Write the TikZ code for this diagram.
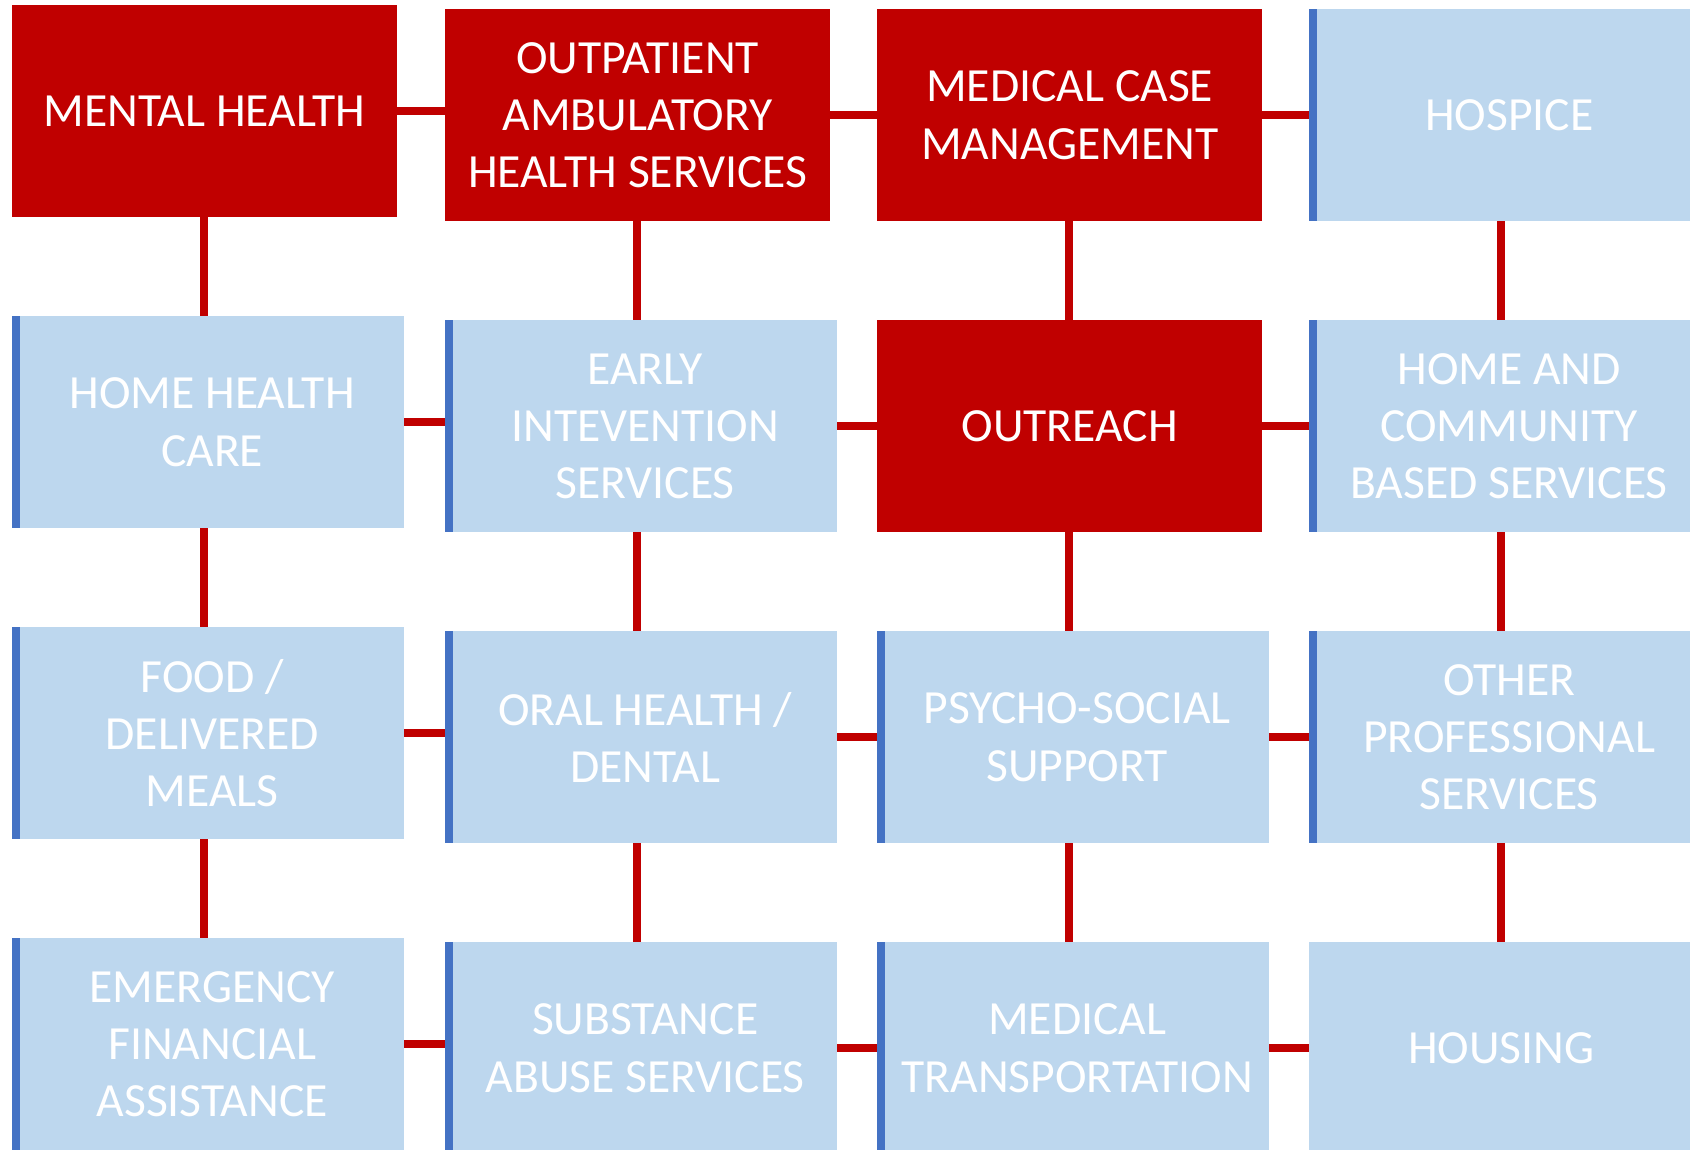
\documentclass[tikz,border=0pt]{standalone}
\usepackage{fontspec}
\setmainfont{Carlito}
\usetikzlibrary{backgrounds}
\definecolor{rd}{HTML}{C00000}
\definecolor{lb}{HTML}{BDD7EE}
\definecolor{st}{HTML}{4472C4}
\tikzset{
  box/.style={rectangle, inner sep=0pt, anchor=north west, text=white, align=center,
    font=\fontsize{47.6}{57.2}\selectfont, minimum height=212pt},
  redbox/.style={box, fill=rd, minimum width=385pt},
  plainbox/.style={box, fill=lb, minimum width=384pt},
  bluebox/.style={plainbox, xshift=8pt,
    append after command={\pgfextra{\fill[st] ([xshift=-8pt]\tikzlastnode.north west) rectangle (\tikzlastnode.south west);}}},
  conn/.style={draw=rd, line width=8pt},
}
\begin{document}
\begin{tikzpicture}[x=1pt,y=-1pt]
\useasboundingbox (0,0) rectangle (1690,1149);
\clip (0,0) rectangle (1690,1149);
% row 1
\node[redbox] (mh) at (12,5) {MENTAL HEALTH};
\node[redbox] (oa) at (445,9) {OUTPATIENT\\AMBULATORY\\HEALTH SERVICES};
\node[redbox] (mcm) at (877,9) {MEDICAL CASE\\MANAGEMENT};
\node[bluebox] (hos) at (1309,9) {HOSPICE};
% row 2
\node[bluebox] (hhc) at (12,316) {HOME HEALTH\\CARE};
\node[bluebox] (eis) at (445,320) {EARLY\\INTEVENTION\\SERVICES};
\node[redbox] (out) at (877,320) {OUTREACH};
\node[bluebox] (hcbs) at (1309,320) {HOME AND\\COMMUNITY\\BASED SERVICES};
% row 3
\node[bluebox] (food) at (12,627) {FOOD /\\DELIVERED\\MEALS};
\node[bluebox] (oral) at (445,631) {ORAL HEALTH /\\DENTAL};
\node[bluebox] (psy) at (877,631) {PSYCHO-SOCIAL\\SUPPORT};
\node[bluebox] (ops) at (1309,631) {OTHER\\PROFESSIONAL\\SERVICES};
% row 4
\node[bluebox] (efa) at (12,938) {EMERGENCY\\FINANCIAL\\ASSISTANCE};
\node[bluebox] (sub) at (445,942) {SUBSTANCE\\ABUSE SERVICES};
\node[bluebox] (mt) at (877,942) {MEDICAL\\TRANSPORTATION};
\node[plainbox] (hou) at (1309,942) {HOUSING};
\begin{pgfonlayer}{background}
\fill[white] (0,0) rectangle (1690,1149);
% horizontal connectors
\foreach \a/\b in {mh/oa, oa/mcm, mcm/hos, hhc/eis, eis/out, out/hcbs, food/oral, oral/psy, psy/ops, efa/sub, sub/mt, mt/hou}
  \draw[conn] (\a.center) -- (\a.center -| \b.center);
% vertical connectors
\foreach \a/\b/\d in {mh/hhc/192, hhc/food/184, food/efa/184, oa/eis/192, eis/oral/184, oral/sub/184, mcm/out/192, out/psy/192, psy/mt/184, hos/hcbs/184, hcbs/ops/184, ops/hou/184}
  \draw[conn] ([xshift=\d pt]\a.south west) -- ([xshift=\d pt]\a.south west |- \b.center);
\end{pgfonlayer}
\end{tikzpicture}
\end{document}
